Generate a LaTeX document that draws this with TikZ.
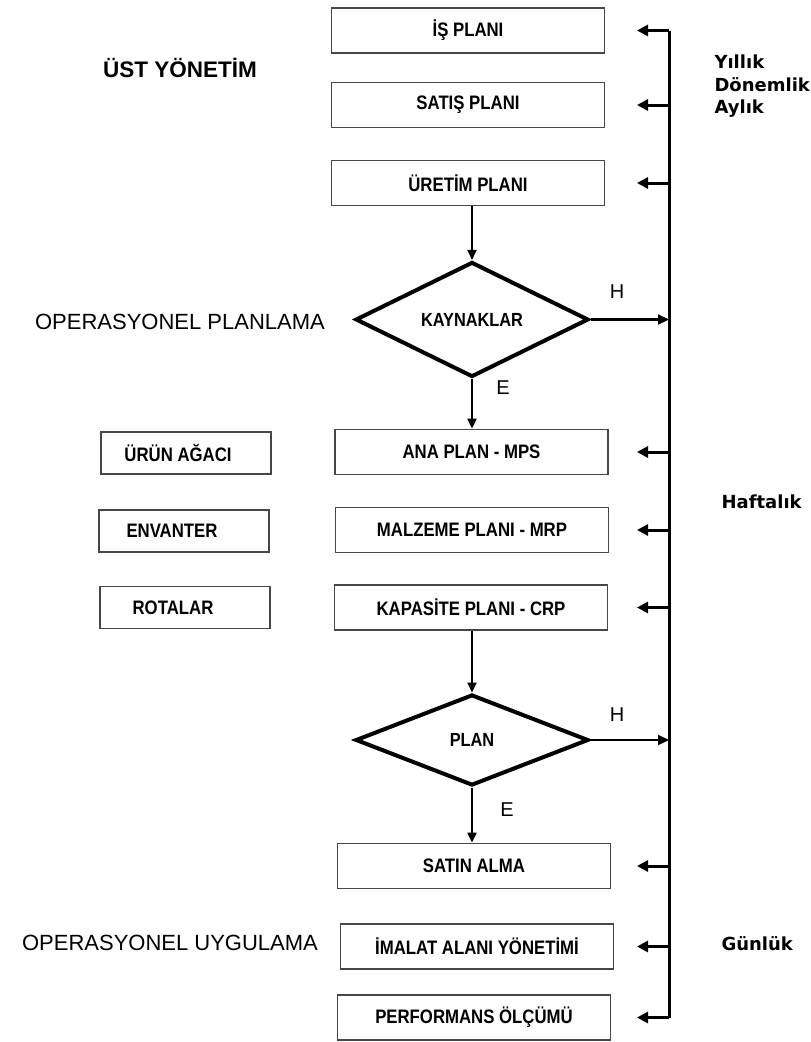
\documentclass[tikz,border=0pt]{standalone}
\usepackage{fontspec}
\setmainfont{Liberation Sans}
\newfontfamily\narrowfont[FakeStretch=0.86]{Liberation Sans}
\newfontfamily\periodfont{DejaVu Sans}
\usetikzlibrary{shapes.geometric,arrows.meta}

\begin{document}
\begin{tikzpicture}[x=1pt,y=-1pt,
  boxfont/.style={font=\narrowfont\bfseries\fontsize{19.5}{21}\selectfont},
  plan/.style={draw=black!72,line width=1.8pt,rectangle,minimum width=273pt,
    minimum height=45pt,inner sep=0pt,boxfont},
  source/.style={draw=black!72,line width=1.8pt,rectangle,minimum width=170pt,
    minimum height=42pt,inner sep=0pt},
  sourcetext/.style={boxfont},
  decision/.style={draw,line width=4pt,diamond,minimum width=233pt,
    minimum height=91pt,inner sep=0pt,font=\narrowfont\bfseries\fontsize{19}{21}\selectfont},
  level/.style={font=\fontsize{22}{24}\selectfont},
  period/.style={anchor=base west,font=\periodfont\bfseries\fontsize{18}{20}\selectfont},
  answer/.style={font=\fontsize{20}{22}\selectfont},
  feed/.style={line width=3pt,-{Triangle[length=11pt,width=11pt]}},
  flow/.style={line width=2pt,-{Triangle[length=10pt,width=9pt]}},
  back/.style={line width=2.2pt,-{Triangle[length=11pt,width=10pt]}}
]
\useasboundingbox (0,0) rectangle (811,1042);

% planning chain
\node[plan] (is)     at (468,30.5)  {İŞ PLANI};
\node[plan] (satis)  at (468,105)   {SATIŞ PLANI};
\node[plan] (uretim) at (468,183)   {ÜRETİM PLANI};
\node[decision] (kaynak) at (472,319.5) {KAYNAKLAR};
\node[plan] (mps)    at (471.5,452) {ANA PLAN - MPS};
\node[plan] (mrp)    at (472,530)   {MALZEME PLANI - MRP};
\node[plan] (crp)    at (471,607.5) {KAPASİTE PLANI - CRP};
\node[decision] (plan) at (472,740) {PLAN};
\node[plan] (satin)  at (474,866)   {SATIN ALMA};
\node[plan] (imalat) at (477,946.5) {İMALAT ALANI YÖNETİMİ};
\node[plan] (perf)   at (474,1017.5){PERFORMANS ÖLÇÜMÜ};

% input data
\node[source,label={[sourcetext,xshift=-8pt]center:ÜRÜN AĞACI}] (agac) at (186,453) {};
\node[source,label={[sourcetext,xshift=-12pt]center:ENVANTER}] (envanter) at (184,531) {};
\node[source,label={[sourcetext,xshift=-12pt]center:ROTALAR}] (rota) at (185,607.5) {};

% management levels
\node[level,font=\fontsize{22.5}{24}\selectfont\bfseries] (ust) at (180,68) {ÜST YÖNETİM};
\node[level] (opplan) at (180,322) {OPERASYONEL PLANLAMA};
\node[level] (opuyg)  at (170,943) {OPERASYONEL UYGULAMA};

% planning horizons
\node[period] (yillik)   at (711,68)  {Yıllık};
\node[period] (donemlik) at (711,91)  {Dönemlik};
\node[period] (aylik)    at (711,113) {Aylık};
\node[period] (haftalik) at (718,508) {Haftalık};
\node[period] (gunluk)   at (718,950) {Günlük};

% decision answers
\node[answer] (h1) at (617,292) {H};
\node[answer] (e1) at (503,388) {E};
\node[answer] (h2) at (617,715) {H};
\node[answer] (e2) at (507,810) {E};

% feedback bus
\coordinate (bustop) at (669,30.5);
\coordinate (busbot) at (669,1017.5);
\coordinate (tipcol) at (637,0);
\draw[line width=3pt] (bustop) -- (busbot);
\foreach \b in {is,satis,uretim,mps,mrp,crp,satin,imalat,perf}
  \draw[feed] (bustop |- \b.east) -- (tipcol |- \b.east);

% vertical flow
\draw[flow] (kaynak.north |- uretim.south) -- (kaynak.north);
\draw[flow] (kaynak.south) -- (kaynak.south |- mps.north);
\draw[flow] (plan.north |- crp.south) -- (plan.north);
\draw[flow] (plan.south) -- (plan.south |- satin.north);

% rejected decisions return to the bus
\draw[back] (kaynak.east) -- (bustop |- kaynak.east);
\draw[back] (plan.east) -- (bustop |- plan.east);
\end{tikzpicture}
\end{document}
